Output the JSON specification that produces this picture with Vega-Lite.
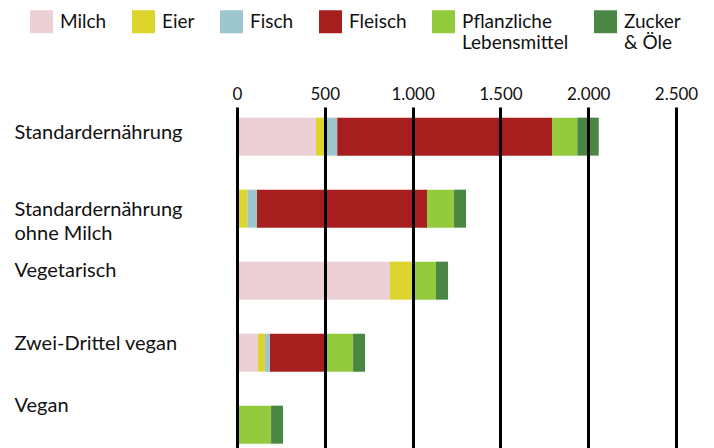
{
  "$schema": "https://vega.github.io/schema/vega-lite/v6.json",
  "width": 439,
  "height": 341,
  "autosize": {"type": "none"},
  "padding": {"left": 237, "top": 107, "right": 38, "bottom": 0},
  "background": "white",
  "config": {"font": "Lato", "view": {"stroke": null}},
  "data": {"values": [
    {"diet": "Standardernährung", "k": "Milch", "v": 450},
    {"diet": "Standardernährung", "k": "Eier", "v": 61},
    {"diet": "Standardernährung", "k": "Fisch", "v": 60},
    {"diet": "Standardernährung", "k": "Fleisch", "v": 1223},
    {"diet": "Standardernährung", "k": "Pflanzliche Lebensmittel", "v": 144},
    {"diet": "Standardernährung", "k": "Zucker & Öle", "v": 122},
    {"diet": "Standardernährung ohne Milch", "k": "Eier", "v": 59},
    {"diet": "Standardernährung ohne Milch", "k": "Fisch", "v": 55},
    {"diet": "Standardernährung ohne Milch", "k": "Fleisch", "v": 968},
    {"diet": "Standardernährung ohne Milch", "k": "Pflanzliche Lebensmittel", "v": 154},
    {"diet": "Standardernährung ohne Milch", "k": "Zucker & Öle", "v": 68},
    {"diet": "Vegetarisch", "k": "Milch", "v": 871},
    {"diet": "Vegetarisch", "k": "Eier", "v": 124},
    {"diet": "Vegetarisch", "k": "Pflanzliche Lebensmittel", "v": 138},
    {"diet": "Vegetarisch", "k": "Zucker & Öle", "v": 69},
    {"diet": "Zwei-Drittel vegan", "k": "Milch", "v": 120},
    {"diet": "Zwei-Drittel vegan", "k": "Eier", "v": 39},
    {"diet": "Zwei-Drittel vegan", "k": "Fisch", "v": 29},
    {"diet": "Zwei-Drittel vegan", "k": "Fleisch", "v": 313},
    {"diet": "Zwei-Drittel vegan", "k": "Pflanzliche Lebensmittel", "v": 160},
    {"diet": "Zwei-Drittel vegan", "k": "Zucker & Öle", "v": 68},
    {"diet": "Vegan", "k": "Pflanzliche Lebensmittel", "v": 194},
    {"diet": "Vegan", "k": "Zucker & Öle", "v": 68}
  ]},
  "transform": [
    {"calculate": "indexof(['Milch', 'Eier', 'Fisch', 'Fleisch', 'Pflanzliche Lebensmittel', 'Zucker & Öle'], datum.k)", "as": "ord"}
  ],
  "mark": {"type": "bar"},
  "encoding": {
    "y": {
      "field": "diet", "type": "nominal",
      "sort": ["Standardernährung", "Standardernährung ohne Milch", "Vegetarisch", "Zwei-Drittel vegan", "Vegan"],
      "scale": {"paddingInner": 0.472, "paddingOuter": 0.104, "align": 0.71},
      "axis": {
        "title": null, "domain": false, "ticks": false, "tickSize": 0,
        "labelAlign": "left", "labelBaseline": "middle", "labelPadding": 223,
        "labelFontSize": 20, "labelColor": "#111", "labelLimit": 300, "labelLineHeight": 24,
        "labelOffset": {"expr": "datum.value == 'Standardernährung' ? -4 : datum.value == 'Vegetarisch' ? -10 : datum.value == 'Zwei-Drittel vegan' ? -9 : datum.value == 'Vegan' ? -19 : 1"},
        "labelExpr": "datum.label == 'Standardernährung ohne Milch' ? ['Standardernährung', 'ohne Milch'] : datum.label"
      }
    },
    "x": {
      "field": "v", "type": "quantitative", "stack": "zero",
      "scale": {"domain": [0, 2500], "nice": false},
      "axis": {
        "orient": "top", "title": null, "values": [0, 500, 1000, 1500, 2000, 2500],
        "grid": true, "gridColor": "black", "gridWidth": 3, "gridOpacity": 1,
        "domain": false, "ticks": false, "tickSize": 0, "labelPadding": 4,
        "labelFontSize": 17, "labelColor": "#111", "labelFlush": false, "labelOverlap": false,
        "labelExpr": "replace(format(datum.value, ','), ',', '.')",
        "zindex": 1
      }
    },
    "color": {
      "field": "k", "type": "nominal",
      "sort": ["Milch", "Eier", "Fisch", "Fleisch", "Pflanzliche Lebensmittel", "Zucker & Öle"],
      "scale": {
        "domain": ["Milch", "Eier", "Fisch", "Fleisch", "Pflanzliche Lebensmittel", "Zucker & Öle"],
        "range": ["#EDD0D5", "#DDD52C", "#9DC7CD", "#A61F1E", "#94CA3E", "#4A8745"]
      },
      "legend": {
        "title": null, "orient": "none", "legendX": -207, "legendY": -97,
        "direction": "horizontal", "columns": 6, "padding": 0,
        "symbolType": "square", "symbolSize": 529, "symbolStrokeWidth": 0, "symbolOpacity": 1,
        "labelFontSize": 19, "labelColor": "#111", "labelOffset": 7, "labelBaseline": "middle",
        "labelLineHeight": 24, "labelLimit": 300, "columnPadding": 25,
        "labelExpr": "datum.label == 'Pflanzliche Lebensmittel' ? ['Pflanzliche', 'Lebensmittel'] : datum.label == 'Zucker & Öle' ? ['Zucker', '& Öle'] : [datum.label, '']"
      }
    },
    "order": {"field": "ord", "type": "quantitative", "sort": "ascending"}
  }
}
